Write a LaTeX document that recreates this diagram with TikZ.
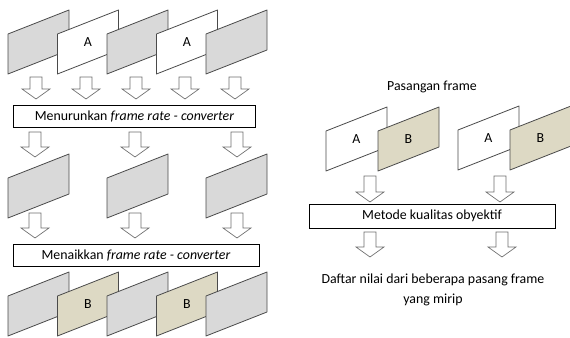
\documentclass[tikz,border=0pt]{standalone}
\usepackage{fontspec}
\setmainfont{Carlito}
\usepackage{tikz}
\definecolor{framegray}{HTML}{D9D9D9}
\definecolor{framebeige}{HTML}{DDD9C4}
\definecolor{edge}{HTML}{4A4A4A}
\tikzset{
	frm/.style={
		draw = edge,
		line width = 0.6pt,
		line join = round
	},
	box/.style={
		draw = black,
		line width = 0.6pt,
		inner sep = 0pt,
		minimum height = 16pt
	},
	harrow/.style={
		draw = edge!80,
		line width = 0.5pt,
		fill = white
	},
}
% parallelogram frame: top-left corner x, y, fill, label, name
\newcommand{\vframe}[5]{
  \filldraw[frm, fill=#3] (#1,#2) -- ++(61,-24) -- ++(0,40) -- ++(-61,24) -- cycle;
  \node (#5) at ($(#1,#2)+(30.5,8)$) {#4};
}
% hollow block arrow pointing down: centre x, top y, tip y
\newcommand{\blockdown}[3]{
  \draw[harrow] (#1-6,#2) -- (#1+6,#2) -- (#1+6,#3-10) -- (#1+14,#3-10)
    -- (#1,#3) -- (#1-14,#3-10) -- (#1-6,#3-10) -- cycle;
}
\usetikzlibrary{calc}

\begin{document}
\begin{tikzpicture}[x=0.75pt, y=-0.75pt, font=\fontsize{10.4}{12.5}\selectfont]
    \useasboundingbox (0,0) rectangle (570,338);
    \begin{scope}
    \clip (0,0) rectangle (570,338);
    % input sequence
    \foreach \i/\c/\t in {0/framegray/, 1/white/A, 2/framegray/, 3/white/A, 4/framegray/}{
      \vframe{8+49.5*\i}{34}{\c}{\t}{in\i}
    }
    \foreach \x in {36,86,136,185,235}{
      \blockdown{\x}{77}{99}
    }
    \node[box, minimum width=182pt] (down) at (134.5,116.5)
      {Menurunkan \textit{frame rate - converter}};
    \foreach \x in {35,135,237}{
      \blockdown{\x}{132}{157}
      \blockdown{\x}{213}{238}
    }
    % reduced sequence
    \foreach \i in {0,1,2}{
      \vframe{8+99*\i}{178}{framegray}{}{mid\i}
    }
    \node[box, minimum width=184.5pt] (up) at (136,255.5)
      {Menaikkan \textit{frame rate - converter}};
    % output sequence
    \foreach \i/\c/\t in {0/framegray/, 1/framebeige/B, 2/framegray/, 3/framebeige/B, 4/framegray/}{
      \vframe{8+49.5*\i}{296}{\c}{\t}{out\i}
    }

    % frame pairs
    \node (pairs) at (432,87) {Pasangan frame};
    \vframe{326}{131}{white}{A}{pa1}
    \vframe{378}{131}{framebeige}{B}{pb1}
    \vframe{458}{130}{white}{A}{pa2}
    \vframe{510}{130}{framebeige}{B}{pb2}
    \blockdown{370}{176}{202}
    \blockdown{500}{176}{202}
    \node[box, minimum width=184.5pt, minimum height=18pt] (metric) at (432,216)
      {Metode kualitas obyektif};
    \blockdown{370}{232}{257}
    \blockdown{502}{232}{257}
    \node[align=center] (result) at (433,290)
      {Daftar nilai dari beberapa pasang frame\\[2pt]yang mirip};
    \end{scope}
  \end{tikzpicture}
\end{document}
